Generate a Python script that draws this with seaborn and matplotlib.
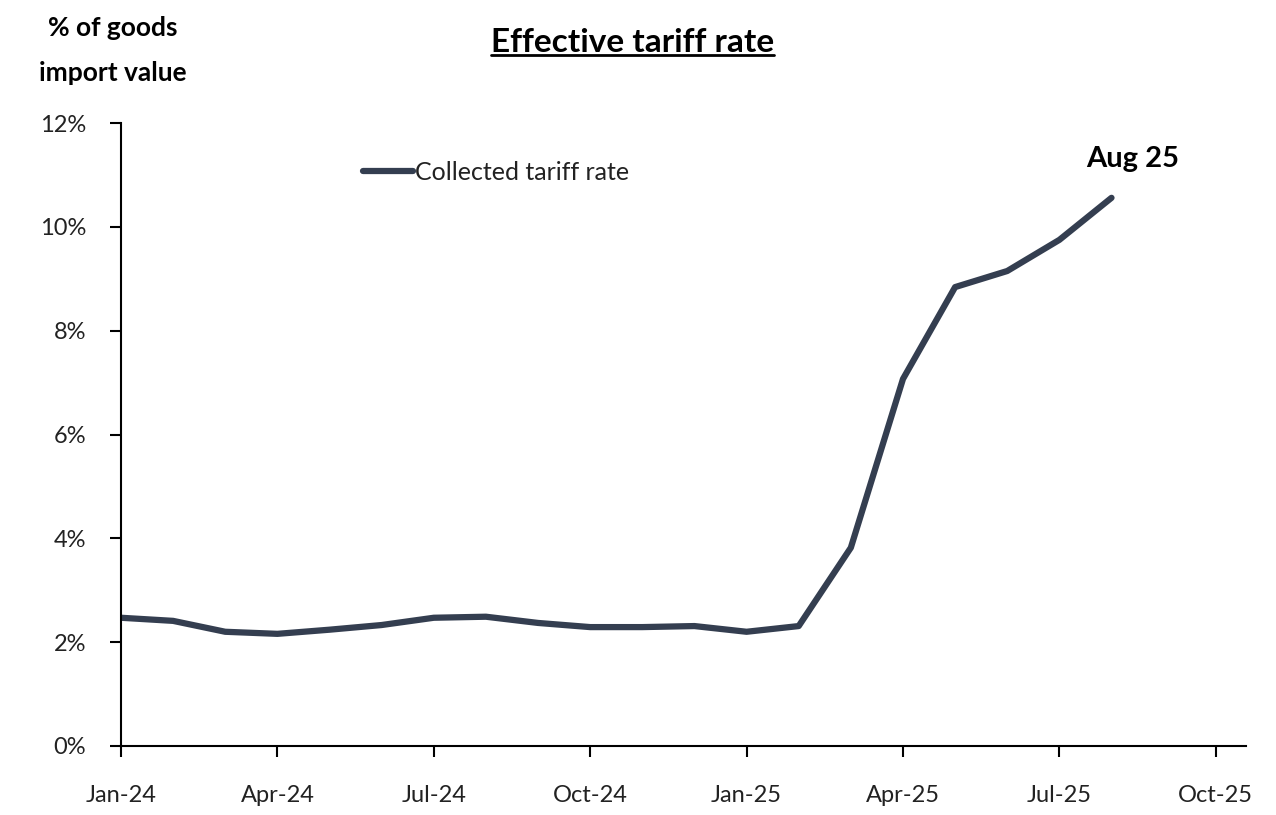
import matplotlib
matplotlib.use("Agg")
import matplotlib.pyplot as plt
import seaborn as sns
import pandas as pd
from matplotlib.lines import Line2D

# Monthly collected tariff rate, Jan-24 .. Aug-25 (% of goods import value)
months = ["Jan-24", "Feb-24", "Mar-24", "Apr-24", "May-24", "Jun-24", "Jul-24",
          "Aug-24", "Sep-24", "Oct-24", "Nov-24", "Dec-24", "Jan-25", "Feb-25",
          "Mar-25", "Apr-25", "May-25", "Jun-25", "Jul-25", "Aug-25"]
rate = [2.47, 2.41, 2.20, 2.16, 2.24, 2.33, 2.47, 2.49, 2.37, 2.29, 2.29, 2.31,
        2.20, 2.31, 3.82, 7.07, 8.84, 9.15, 9.75, 10.56]
tick_labels = ["Jan-24", "Apr-24", "Jul-24", "Oct-24", "Jan-25", "Apr-25",
               "Jul-25", "Oct-25"]
y_ticks = [0, 2, 4, 6, 8, 10, 12]

sns.set_theme(style="white")
plt.rcParams["font.family"] = ["Lato", "DejaVu Sans"]

df = pd.DataFrame({"idx": range(len(months)), "rate": rate,
                   "series": "Collected tariff rate"})

fig = plt.figure(figsize=(12.76, 8.15), dpi=100)
ax = fig.add_axes([0.0948, 0.0847, 0.8817, 0.7643])

line_color = "#343e50"
sns.lineplot(data=df, x="idx", y="rate", ax=ax, color=line_color,
             linewidth=4.5, solid_capstyle="round", label="Collected tariff rate")

ax.set_xlim(0, 21.58)
ax.set_ylim(0, 12)
ax.set_xticks([0, 3, 6, 9, 12, 15, 18, 21])
ax.set_xticklabels(tick_labels)
ax.set_yticks(y_ticks)
ax.set_yticklabels([f"{v}%" for v in y_ticks])
ax.set_xlabel("")
ax.set_ylabel("")

for s in ["top", "right"]:
    ax.spines[s].set_visible(False)
for s in ["left", "bottom"]:
    ax.spines[s].set_color("black")
    ax.spines[s].set_linewidth(1.5)

ax.tick_params(axis="both", which="both", direction="out", length=8,
               width=1.5, color="black", labelsize=17, labelcolor="#222222")
ax.tick_params(axis="x", pad=20)
ax.tick_params(axis="y", pad=17)
ax.tick_params(left=True, bottom=True)

leg = ax.legend(loc="upper left", bbox_to_anchor=(0.195, 0.975), frameon=False,
                fontsize=18, handlelength=2.0, handletextpad=0.1)
for t in leg.get_texts():
    t.set_color("#222222")

# End-of-series label
ax.annotate("Aug 25", xy=(19, rate[-1]), xytext=(19.4, 11.3),
            ha="center", va="center", fontsize=21, fontweight="bold",
            color="black")

# Title with underline
title = fig.text(0.496, 0.948, "Effective tariff rate", ha="center",
                 va="center", fontsize=24, fontweight="bold", color="black")
fig.text(0.0886, 0.966, "% of goods", ha="center", va="center",
         fontsize=19, fontweight="bold", color="black")
fig.text(0.0886, 0.911, "import value", ha="center", va="center",
         fontsize=19, fontweight="bold", color="black")

fig.canvas.draw()
bb = title.get_window_extent(renderer=fig.canvas.get_renderer())
inv = fig.transFigure.inverted()
(x0, y0), (x1, _) = inv.transform([(bb.x0, bb.y0), (bb.x1, bb.y1)])
fig.add_artist(Line2D([x0, x1], [y0 + 0.002, y0 + 0.002], color="black",
                      linewidth=2.0, transform=fig.transFigure))

fig.savefig("out.png", dpi=100, facecolor="white")
